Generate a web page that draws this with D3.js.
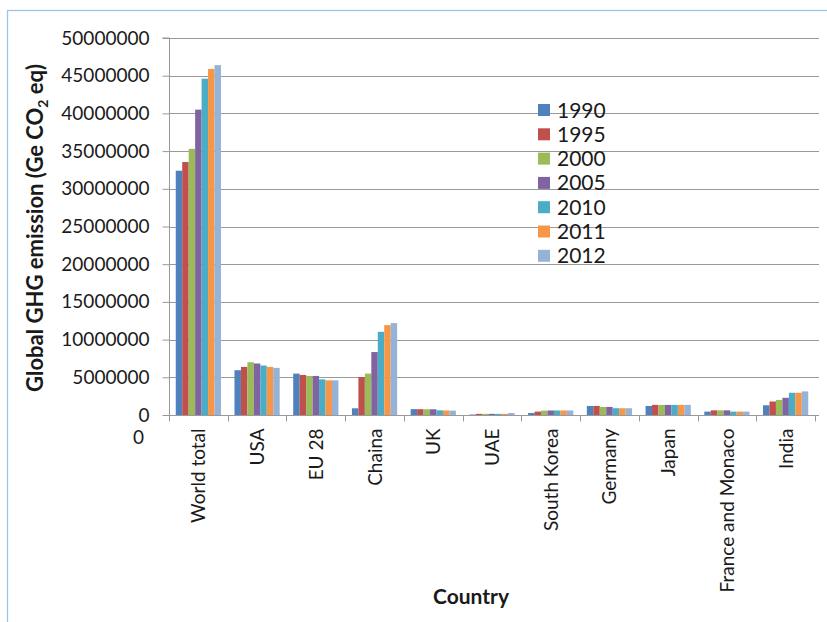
<!DOCTYPE html>
<html>
<head>
<meta charset="utf-8">
<script src="https://cdn.jsdelivr.net/npm/d3@7"></script>
<style>
  html, body { margin: 0; padding: 0; background: #fff; }
  svg { display: block; }
  text { font-family: Lato, "Open Sans", sans-serif; }
</style>
</head>
<body>
<svg id="chart" width="827" height="622"></svg>
<script>
const categories = ["World total", "USA", "EU 28", "Chaina", "UK", "UAE", "South Korea", "Germany", "Japan", "France and Monaco", "India"];
const years = ["1990", "1995", "2000", "2005", "2010", "2011", "2012"];
const colors = ["#4F81BD", "#C0504D", "#9BBB59", "#8064A2", "#4BACC6", "#F79646", "#95B3D7"];
const v1990 = [32400000, 5940000, 5490000, 890000, 780000, 60000, 270000, 1200000, 1200000, 450000, 1290000];
const v1995 = [33550000, 6380000, 5310000, 5040000, 770000, 150000, 450000, 1200000, 1340000, 620000, 1790000];
const v2000 = [35300000, 7000000, 5180000, 5490000, 760000, 150000, 580000, 1070000, 1340000, 620000, 2000000];
const v2005 = [40500000, 6830000, 5180000, 8350000, 760000, 150000, 600000, 1070000, 1340000, 620000, 2280000];
const v2010 = [44600000, 6560000, 4730000, 11030000, 620000, 150000, 600000, 900000, 1340000, 450000, 2950000];
const v2011 = [45900000, 6380000, 4600000, 11920000, 600000, 150000, 600000, 900000, 1340000, 450000, 2950000];
const v2012 = [46400000, 6250000, 4600000, 12190000, 580000, 270000, 600000, 900000, 1340000, 450000, 3130000];
const seriesValues = [v1990, v1995, v2000, v2005, v2010, v2011, v2012];
const yTicks = [0, 5000000, 10000000, 15000000, 20000000, 25000000, 30000000, 35000000, 40000000, 45000000, 50000000];

const svg = d3.select("#chart");
const L = 169, R = 815, T = 38, B = 415;
const gridColor = "#999999";

// chart border (top & left visible)
svg.append("rect").attr("x", 7.5).attr("y", 10.5).attr("width", 840).attr("height", 640)
  .attr("fill", "none").attr("stroke", "#9DC3E6").attr("stroke-width", 1.3);

const x0 = d3.scaleBand().domain(categories).range([L, R]).paddingInner(0).paddingOuter(0);
const bw = x0.bandwidth();
const x1 = d3.scaleBand().domain(years).range([bw * 0.115, bw * 0.885]).padding(0);
const y = d3.scaleLinear().domain([0, 50000000]).range([B, T]);

// gridlines
svg.append("g").selectAll("line").data(yTicks.filter(d => d > 0)).join("line")
  .attr("x1", L).attr("x2", 819).attr("y1", d => Math.round(y(d)) + 0.5).attr("y2", d => Math.round(y(d)) + 0.5)
  .attr("stroke", gridColor).attr("stroke-width", 1);

// bars
const groups = svg.append("g").selectAll("g").data(categories).join("g")
  .attr("transform", d => `translate(${x0(d)},0)`);
groups.selectAll("rect").data((c, ci) => years.map((yr, si) => ({ yr, si, v: seriesValues[si][ci] }))).join("rect")
  .attr("x", d => x1(d.yr)).attr("width", x1.bandwidth())
  .attr("y", d => y(d.v)).attr("height", d => B - y(d.v))
  .attr("fill", d => colors[d.si]);

// y axis
const yAxis = d3.axisLeft(y).tickValues(yTicks).tickSize(7).tickPadding(13).tickFormat(d => String(d));
const gy = svg.append("g").attr("transform", `translate(${L + 0.5},0)`).call(yAxis);
gy.select(".domain").attr("stroke", gridColor).attr("d", `M-7,${T}H0V${B + 0.5}`);
gy.selectAll(".tick line").attr("stroke", gridColor);
gy.selectAll(".tick text").attr("font-size", 19).attr("fill", "#1a1a1a").attr("font-family", "Lato");

// x axis
const gx = svg.append("g").attr("transform", `translate(0,${B + 0.5})`);
gx.append("line").attr("x1", L).attr("x2", 819).attr("stroke", gridColor);
const bounds = categories.map(c => x0(c)).concat([x0(categories[categories.length - 1]) + bw]);
gx.selectAll("line.tk").data(bounds).join("line").attr("class", "tk")
  .attr("x1", d => Math.round(d) + 0.5).attr("x2", d => Math.round(d) + 0.5).attr("y1", 0).attr("y2", 6)
  .attr("stroke", gridColor);
gx.selectAll("text").data(categories).join("text")
  .attr("transform", d => `translate(${x0(d) + bw / 2 + 7},13) rotate(-90)`)
  .attr("text-anchor", "end").attr("font-size", 19).attr("fill", "#1a1a1a").text(d => d);

// stray zero under axis
svg.append("text").attr("x", 144).attr("y", 444).attr("text-anchor", "end")
  .attr("font-size", 19).attr("fill", "#1a1a1a").text("0");

// axis titles
const yt = svg.append("text").attr("transform", `translate(43,228) rotate(-90)`)
  .attr("text-anchor", "middle").attr("font-size", 22).attr("font-weight", "bold").attr("fill", "#1a1a1a");
yt.append("tspan").text("Global GHG emission (Ge CO");
yt.append("tspan").attr("font-size", 14).attr("dy", 5).text("2");
yt.append("tspan").attr("dy", -5).text(" eq)");

svg.append("text").attr("x", 471).attr("y", 604).attr("text-anchor", "middle")
  .attr("font-size", 21).attr("font-weight", "bold").attr("fill", "#1a1a1a").text("Country");

// legend
const lg = svg.append("g").selectAll("g").data(years).join("g")
  .attr("transform", (d, i) => `translate(538,${110 + i * 24.3})`);
lg.append("rect").attr("x", 0).attr("y", -6).attr("width", 12).attr("height", 12).attr("fill", (d, i) => colors[i]);
lg.append("text").attr("x", 19).attr("y", 7.5).attr("font-size", 21).attr("fill", "#1a1a1a").text(d => d);
</script>
</body>
</html>
